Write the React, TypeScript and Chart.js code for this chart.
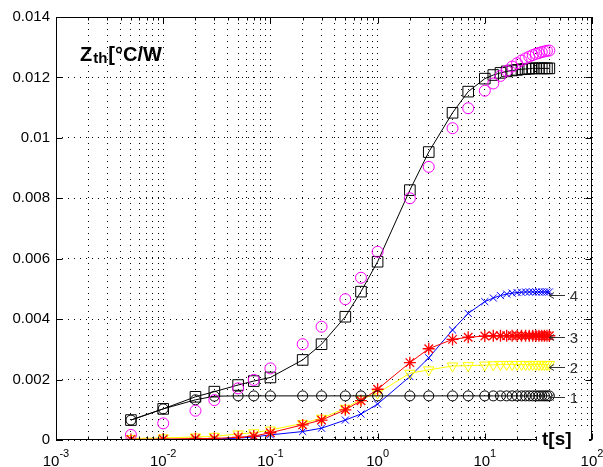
import React, { useEffect, useRef } from "react";
import { Chart, registerables } from "chart.js";

Chart.register(...registerables);

// ---- data ----
const TIME_S = [
  0.005, 0.01, 0.02, 0.03, 0.05, 0.07, 0.1, 0.2, 0.3, 0.5, 0.7, 1, 2, 3, 5, 7,
  10, 12, 14, 16, 18, 20, 22, 24, 26, 28, 30, 32, 34, 36, 38, 40,
];
const ZTH_TOTAL_SQUARES = [
  0.00066, 0.00103, 0.00143, 0.0016, 0.00182, 0.00195, 0.00207, 0.00265, 0.00317, 0.00408, 0.00491, 0.0059, 0.00827, 0.00953, 0.01083, 0.01153,
  0.01196, 0.01208, 0.01215, 0.0122, 0.01223, 0.01225, 0.01227, 0.01228, 0.01229, 0.0123, 0.0123, 0.0123, 0.0123, 0.0123, 0.0123, 0.0123,
];
const ZTH_TOTAL_CIRCLES = [
  0.00017, 0.00055, 0.00097, 0.00132, 0.00171, 0.00199, 0.00237, 0.00317, 0.00375, 0.00466, 0.00537, 0.00623, 0.008, 0.00904, 0.01032, 0.01098,
  0.01156, 0.0118, 0.01205, 0.01222, 0.01236, 0.01247, 0.01256, 0.01263, 0.01269, 0.01274, 0.01278, 0.01281, 0.01284, 0.01286, 0.01288, 0.01289,
];
const CURVE_1 = [
  0.00066, 0.00103, 0.00133, 0.00145, 0.00146, 0.00146, 0.00146, 0.00146, 0.00146, 0.00146, 0.00146, 0.00146, 0.00146, 0.00146, 0.00146, 0.00146,
  0.00146, 0.00146, 0.00146, 0.00146, 0.00146, 0.00146, 0.00146, 0.00146, 0.00146, 0.00146, 0.00146, 0.00146, 0.00146, 0.00146, 0.00146, 0.00146,
];
const CURVE_2 = [
  0.00005, 0.00007, 0.0001, 0.00012, 0.0002, 0.00024, 0.00033, 0.00055, 0.00072, 0.00105, 0.00135, 0.00155, 0.00221, 0.00232, 0.00245, 0.00246,
  0.00248, 0.00249, 0.0025, 0.0025, 0.0025, 0.0025, 0.0025, 0.0025, 0.0025, 0.0025, 0.0025, 0.0025, 0.0025, 0.0025, 0.0025, 0.0025,
];
const CURVE_3 = [
  0.00002, 0.00003, 0.00005, 0.00005, 0.00009, 0.00013, 0.00024, 0.0005, 0.00066, 0.001, 0.0013, 0.00168, 0.00256, 0.00302, 0.00333, 0.0034,
  0.00344, 0.00345, 0.00345, 0.00345, 0.00345, 0.00345, 0.00345, 0.00345, 0.00345, 0.00345, 0.00345, 0.00345, 0.00345, 0.00345, 0.00345, 0.00345,
];
const CURVE_4 = [
  0, 0.00001, 0.00002, 0.00003, 0.00006, 0.0001, 0.00017, 0.00028, 0.00039, 0.00066, 0.00086, 0.00119, 0.0021, 0.00272, 0.00364, 0.00419,
  0.00458, 0.0047, 0.00478, 0.00483, 0.00486, 0.00488, 0.00489, 0.0049, 0.0049, 0.0049, 0.0049, 0.0049, 0.0049, 0.0049, 0.0049, 0.0049,
];

const Y_TICKS = [0, 0.002, 0.004, 0.006, 0.008, 0.01, 0.012, 0.014];
const X_DECADES = [-3, -2, -1, 0, 1, 2];
const X_MULTIPLIERS = [1, 2, 3, 4, 5, 6, 7, 8, 9];
const CURVE_LABELS = ["1", "2", "3", "4"];
const CURVE_LABEL_VALUES = [0.00141, 0.0024, 0.0034, 0.0048];
const Y_TITLE_MAIN = "Z";
const Y_TITLE_SUB = "th";
const Y_TITLE_UNIT = "[°C/W";
const X_TITLE = "t[s]";

const FONT = "'Liberation Sans', Arial, Helvetica, sans-serif";

function buildXTicks() {
  const out: { value: number; major: boolean }[] = [];
  for (let i = 0; i < X_DECADES.length; i++) {
    const d = X_DECADES[i];
    const mults = i === X_DECADES.length - 1 ? [1] : X_MULTIPLIERS;
    for (const m of mults) {
      out.push({ value: Number((m * Math.pow(10, d)).toPrecision(6)), major: m === 1 });
    }
  }
  return out;
}

const pts = (arr: number[]) => TIME_S.map((t, i) => ({ x: t, y: arr[i] }));

const decorations = {
  id: "decorations",
  beforeDraw(chart: any) {
    const { ctx, width, height } = chart;
    ctx.save();
    ctx.fillStyle = "#fff";
    ctx.fillRect(0, 0, width, height);
    ctx.restore();
  },
  afterDraw(chart: any) {
    const { ctx, chartArea: ca } = chart;
    const xs = chart.scales.x;
    const ys = chart.scales.y;
    const L = Math.round(ca.left) + 0.5;
    const R = Math.round(ca.right) - 0.5;
    const T = Math.round(ca.top) + 0.5;
    const B = Math.round(ca.bottom) - 0.5;
    ctx.save();
    ctx.strokeStyle = "#000";
    ctx.lineWidth = 1;
    ctx.setLineDash([]);
    ctx.beginPath();
    for (const v of Y_TICKS) {
      const py = Math.round(ys.getPixelForValue(v)) + 0.5;
      ctx.moveTo(L, py);
      ctx.lineTo(L + 6, py);
      ctx.moveTo(R, py);
      ctx.lineTo(R - 6, py);
    }
    for (const tk of xs.ticks) {
      const px = Math.round(xs.getPixelForValue(tk.value)) + 0.5;
      const len = tk.major ? 6 : 3;
      ctx.moveTo(px, B);
      ctx.lineTo(px, B - len);
      ctx.moveTo(px, T);
      ctx.lineTo(px, T + len);
    }
    ctx.stroke();
    ctx.strokeRect(L, T, R - L, B - T);

    // x tick labels 10^n
    ctx.fillStyle = "#000";
    ctx.textBaseline = "alphabetic";
    ctx.textAlign = "left";
    for (const d of X_DECADES) {
      const px = xs.getPixelForValue(Math.pow(10, d));
      const base = "10";
      const exp = String(d);
      ctx.font = `15px ${FONT}`;
      const wb = ctx.measureText(base).width;
      ctx.font = `11px ${FONT}`;
      const we = ctx.measureText(exp).width;
      const x0 = px - (wb + we) / 2;
      ctx.font = `15px ${FONT}`;
      ctx.fillText(base, x0, 466);
      ctx.font = `11px ${FONT}`;
      ctx.fillText(exp, x0 + wb, 457);
    }

    // x title with white background
    ctx.fillStyle = "#fff";
    ctx.fillRect(ca.right - 55, ca.bottom - 9, 52, 22);
    ctx.fillStyle = "#000";
    ctx.font = `bold 19px ${FONT}`;
    ctx.fillText(X_TITLE, ca.right - 50, 445);

    // y title
    ctx.font = `bold 20px ${FONT}`;
    ctx.fillText(Y_TITLE_MAIN, 80, 61);
    const wz = ctx.measureText(Y_TITLE_MAIN).width;
    ctx.font = `bold 15px ${FONT}`;
    ctx.fillText(Y_TITLE_SUB, 80 + wz + 1, 63);
    const ws = ctx.measureText(Y_TITLE_SUB).width;
    ctx.font = `bold 20px ${FONT}`;
    ctx.fillText(Y_TITLE_UNIT, 80 + wz + ws + 2, 61);

    // curve labels with arrows
    ctx.strokeStyle = "#333";
    ctx.fillStyle = "#333";
    ctx.font = `15px ${FONT}`;
    ctx.textAlign = "center";
    ctx.textBaseline = "middle";
    for (let i = 0; i < CURVE_LABELS.length; i++) {
      const py = Math.round(ys.getPixelForValue(CURVE_LABEL_VALUES[i])) + 0.5;
      const x1 = ca.right - 43;
      const x2 = ca.right - 27;
      ctx.beginPath();
      ctx.moveTo(x1, py);
      ctx.lineTo(x2, py);
      ctx.moveTo(x1 + 5, py - 3);
      ctx.lineTo(x1, py);
      ctx.lineTo(x1 + 5, py + 3);
      ctx.stroke();
      ctx.fillText(CURVE_LABELS[i], ca.right - 18, py + 1);
    }
    ctx.restore();
  },
};

export default function App() {
  const ref = useRef<HTMLCanvasElement | null>(null);
  useEffect(() => {
    if (!ref.current) return;
    const hollow = "rgba(0,0,0,0)";
    const chart = new Chart(ref.current, {
      type: "line",
      data: {
        datasets: [
          {
            data: pts(ZTH_TOTAL_CIRCLES),
            showLine: false,
            borderColor: "#ff00ff",
            pointStyle: "circle",
            pointRadius: 5.5,
            pointBorderWidth: 1,
            pointBorderColor: "#ff00ff",
            pointBackgroundColor: hollow,
          },
          {
            data: pts(ZTH_TOTAL_SQUARES),
            borderColor: "#000",
            borderWidth: 1,
            pointStyle: "rect",
            pointRadius: 7.5,
            pointBorderWidth: 1,
            pointBorderColor: "#000",
            pointBackgroundColor: hollow,
          },
          {
            data: pts(CURVE_1),
            borderColor: "#000",
            borderWidth: 1,
            pointStyle: "circle",
            pointRadius: 5,
            pointBorderWidth: 1,
            pointBorderColor: "#000",
            pointBackgroundColor: hollow,
          },
          {
            data: pts(CURVE_3),
            borderColor: "#ff0000",
            borderWidth: 1,
            pointStyle: "star",
            pointRadius: 6,
            pointBorderWidth: 1.3,
            pointBorderColor: "#ff0000",
            pointBackgroundColor: hollow,
          },
          {
            data: pts(CURVE_2),
            borderColor: "#ffff00",
            borderWidth: 1,
            pointStyle: "triangle",
            pointRotation: 180,
            pointRadius: 6,
            pointBorderWidth: 1,
            pointBorderColor: "#ffff00",
            pointBackgroundColor: hollow,
          },
          {
            data: pts(CURVE_4),
            borderColor: "#0000ff",
            borderWidth: 1,
            pointStyle: "crossRot",
            pointRadius: 5,
            pointBorderWidth: 1,
            pointBorderColor: "#0000ff",
            pointBackgroundColor: hollow,
          },
        ],
      },
      options: {
        responsive: false,
        animation: false,
        events: [],
        layout: { padding: { left: 0, top: 17, right: 11, bottom: 0 } },
        elements: { line: { tension: 0 } },
        plugins: { legend: { display: false }, tooltip: { enabled: false } },
        scales: {
          x: {
            type: "logarithmic",
            min: 0.001,
            max: 100,
            afterBuildTicks: (scale: any) => {
              scale.ticks = buildXTicks();
            },
            afterFit: (scale: any) => {
              scale.height = 27;
            },
            ticks: { display: false },
            grid: { display: true, color: "#000", lineWidth: 1, drawTicks: false },
            border: { display: false, dash: [1, 5] },
          },
          y: {
            type: "linear",
            min: 0,
            max: 0.014,
            afterBuildTicks: (scale: any) => {
              scale.ticks = Y_TICKS.map((v) => ({ value: v }));
            },
            afterFit: (scale: any) => {
              scale.width = 56;
            },
            ticks: {
              color: "#000",
              padding: 6,
              font: { family: FONT, size: 15 },
              callback: (v: any) => String(Number(Number(v).toFixed(3))),
            },
            grid: { display: true, color: "#000", lineWidth: 1, drawTicks: false },
            border: { display: false, dash: [1, 5] },
          },
        },
      },
      plugins: [decorations],
    } as any);
    return () => chart.destroy();
  }, []);
  return (
    <div style={{ position: "absolute", left: 0, top: 0, width: 603, height: 467 }}>
      <canvas ref={ref} width={603} height={467} style={{ display: "block" }} />
    </div>
  );
}
